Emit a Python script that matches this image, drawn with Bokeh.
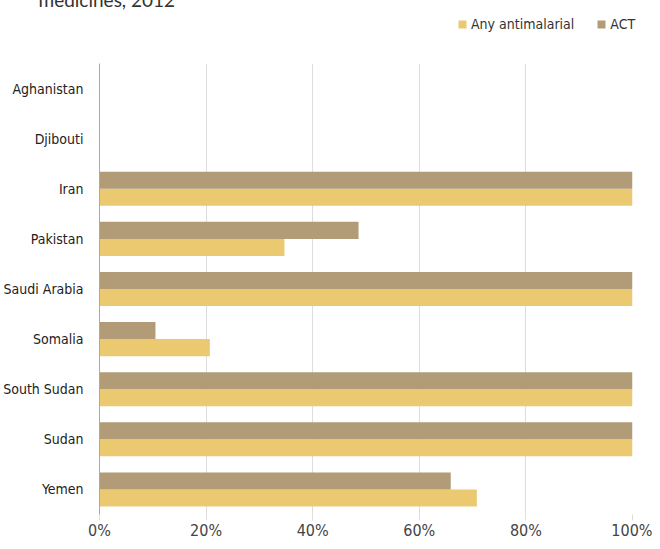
from bokeh.plotting import figure
from bokeh.layouts import column, row
from bokeh.models import (ColumnDataSource, FactorRange, Range1d, Legend, LegendItem,
                          PrintfTickFormatter, FixedTicker)
from bokeh.core.properties import value
from bokeh.transform import dodge
from bokeh.embed import file_html
from bokeh.resources import INLINE

countries = ["Aghanistan", "Djibouti", "Iran", "Pakistan", "Saudi Arabia",
             "Somalia", "South Sudan", "Sudan", "Yemen"]
any_antimalarial = [0, 0, 100, 34.7, 100, 20.7, 100, 100, 70.8]
act = [0, 0, 100, 48.6, 100, 10.5, 100, 100, 65.9]
x_ticks = [0, 20, 40, 60, 80, 100]
series_names = ["Any antimalarial", "ACT"]
title_text = "medicines, 2012"

FONT = "DejaVu Sans Condensed, Roboto"
C_ANY = "#EBC970"
C_ACT = "#B29C77"
W = 652
HEAD_H = 60
LEFT, RIGHT = 87, 20

src = ColumnDataSource(dict(country=countries, any=any_antimalarial, act=act))

# ---------- header (title fragment + legend) ----------
head = figure(width=W, height=HEAD_H, output_backend="svg", toolbar_location=None,
              title=None, x_range=Range1d(0, W), y_range=Range1d(HEAD_H, 0),
              x_axis_type=None, y_axis_type=None, outline_line_color=None,
              min_border_left=0, min_border_right=0,
              min_border_top=0, min_border_bottom=0)
head.xgrid.visible = False
head.ygrid.visible = False
head.text(x=[38], y=[15], text=[title_text], text_font=value("Lato"),
          text_font_size="19px", text_color="#333333", text_baseline="alphabetic")
# legend keys only (hidden renderers, never drawn in the header)
d_any = head.rect(x="any", y="act", width=1, height=1, source=src, color=C_ANY,
                  line_color=None, visible=False)
d_act = head.rect(x="any", y="act", width=1, height=1, source=src, color=C_ACT,
                  line_color=None, visible=False)
legend = Legend(items=[LegendItem(label=series_names[0], renderers=[d_any]),
                       LegendItem(label=series_names[1], renderers=[d_act])],
                orientation="horizontal", location=(457, 12),
                label_text_font=FONT, label_text_font_size="14px",
                label_text_color="#333333", glyph_width=10, glyph_height=10,
                label_standoff=4, spacing=22, padding=4, margin=0,
                border_line_color=None, background_fill_alpha=0,
                inactive_fill_alpha=0, click_policy="none")
head.add_layout(legend)

# ---------- main chart ----------
p = figure(width=W, height=505, output_backend="svg", toolbar_location=None,
           y_range=FactorRange(factors=list(reversed(countries)), range_padding=0),
           x_range=(0, 100), min_border_left=LEFT, min_border_right=RIGHT,
           min_border_top=19, min_border_bottom=35, outline_line_color=None)

p.hbar(y=dodge("country", -0.17, range=p.y_range), right="any", height=0.34,
       source=src, color=C_ANY, line_color=None)
p.hbar(y=dodge("country", 0.17, range=p.y_range), right="act", height=0.34,
       source=src, color=C_ACT, line_color=None)

p.xaxis.ticker = FixedTicker(ticks=x_ticks)
p.xaxis.formatter = PrintfTickFormatter(format="%d%%")
p.xaxis.axis_line_color = None
p.xaxis.major_tick_line_color = "#dddddd"
p.xaxis.major_tick_out = 6
p.xaxis.major_tick_in = 0
p.xaxis.minor_tick_line_color = None
p.xaxis.major_label_text_font = FONT
p.xaxis.major_label_text_font_size = "16px"
p.xaxis.major_label_text_color = "#444444"
p.xaxis.major_label_standoff = 0

p.yaxis.axis_line_color = "#aaaaaa"
p.yaxis.major_tick_line_color = None
p.yaxis.minor_tick_line_color = None
p.yaxis.major_label_text_font = FONT
p.yaxis.major_label_text_font_size = "14px"
p.yaxis.major_label_text_color = "#222222"
p.yaxis.major_label_standoff = 10

p.xgrid.grid_line_color = "#dddddd"
p.ygrid.grid_line_color = None

layout = column(row(head), p, spacing=0, styles={"margin-top": "-16px"})

open("out.html", "w").write(file_html(layout, INLINE))
